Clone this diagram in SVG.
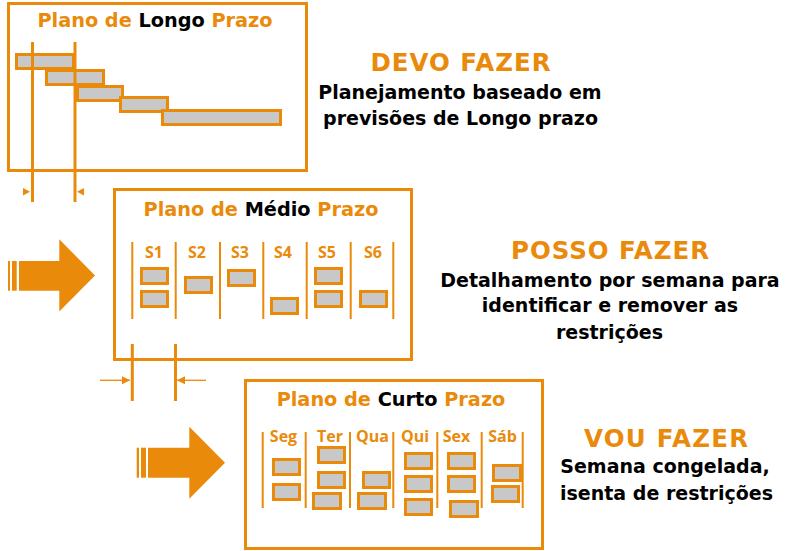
<svg xmlns="http://www.w3.org/2000/svg" width="800" height="551" viewBox="0 0 800 551">
<style>
.frame{fill:#fff;stroke:#EA8A0B;stroke-width:3}
.bar{fill:#C8C8C8;stroke:#EA8A0B;stroke-width:3}
.vl{stroke:#EA8A0B;stroke-width:3}
.div{stroke:#EA8A0B;stroke-width:2}
.thin{stroke:#EA8A0B;stroke-width:1.3}
.big{fill:#EA8A0B}
.title{font-family:"DejaVu Sans",sans-serif;font-weight:700;font-size:19.3px;text-anchor:middle;fill:#EA8A0B}
.k{fill:#000}
.col{font-family:"Open Sans","Noto Sans",sans-serif;font-weight:700;font-size:16px;text-anchor:middle;fill:#EA8A0B}
.head{font-family:"DejaVu Sans",sans-serif;font-weight:700;font-size:24.5px;text-anchor:middle;fill:#EA8A0B}
.body{font-family:"DejaVu Sans",sans-serif;font-weight:700;font-size:19px;text-anchor:middle;fill:#000}
</style>
<defs>
<marker id="ah" viewBox="0 0 8 8" refX="8" refY="4" markerWidth="8" markerHeight="8" markerUnits="userSpaceOnUse" orient="auto">
<path d="M0,0 L8,4 L0,8 Z" fill="#EA8A0B"/>
</marker>
</defs>

<g id="longo">
<rect class="frame" x="8.5" y="3.5" width="298" height="167"/>
<text class="title" x="155" y="27">Plano de <tspan class="k">Longo</tspan> Prazo</text>
<rect class="bar" x="16.5" y="54.5" width="57" height="14"/>
<rect class="bar" x="46.5" y="70.5" width="57" height="14"/>
<rect class="bar" x="77.5" y="86.5" width="45" height="14"/>
<rect class="bar" x="120.5" y="97.5" width="47" height="14"/>
<rect class="bar" x="162.5" y="110.5" width="118" height="14"/>
</g>

<g id="medio">
<rect class="frame" x="114.5" y="189.5" width="297" height="170"/>
<text class="title" x="261" y="216">Plano de <tspan class="k">Médio</tspan> Prazo</text>
<g class="div">
<line x1="132.3" y1="242" x2="132.3" y2="319"/>
<line x1="175.7" y1="242" x2="175.7" y2="319"/>
<line x1="220" y1="242" x2="220" y2="319"/>
<line x1="263.3" y1="242" x2="263.3" y2="319"/>
<line x1="306.7" y1="242" x2="306.7" y2="319"/>
<line x1="350.7" y1="242" x2="350.7" y2="319"/>
<line x1="393.3" y1="242" x2="393.3" y2="319"/>
</g>
<text class="col" x="154" y="258">S1</text>
<text class="col" x="197" y="258">S2</text>
<text class="col" x="240" y="258">S3</text>
<text class="col" x="283" y="258">S4</text>
<text class="col" x="327" y="258">S5</text>
<text class="col" x="373" y="258">S6</text>
<rect class="bar" x="141.5" y="268.5" width="26" height="15"/>
<rect class="bar" x="141.5" y="291.5" width="26" height="15"/>
<rect class="bar" x="185.5" y="277.5" width="26" height="15"/>
<rect class="bar" x="228.5" y="270.5" width="26" height="15"/>
<rect class="bar" x="271.5" y="298.5" width="26" height="15"/>
<rect class="bar" x="315.5" y="268.5" width="26" height="15"/>
<rect class="bar" x="315.5" y="291.5" width="26" height="15"/>
<rect class="bar" x="360.5" y="291.5" width="26" height="15"/>
</g>

<g id="curto">
<rect class="frame" x="245.5" y="380.5" width="297" height="168"/>
<text class="title" x="391" y="406">Plano de <tspan class="k">Curto</tspan> Prazo</text>
<g class="div">
<line x1="262.7" y1="432" x2="262.7" y2="508"/>
<line x1="305.7" y1="432" x2="305.7" y2="508"/>
<line x1="350" y1="432" x2="350" y2="508"/>
<line x1="393.3" y1="432" x2="393.3" y2="508"/>
<line x1="437.3" y1="432" x2="437.3" y2="508"/>
<line x1="481.7" y1="432" x2="481.7" y2="508"/>
<line x1="522.7" y1="432" x2="522.7" y2="508"/>
</g>
<text class="col" x="283.5" y="442">Seg</text>
<text class="col" x="330" y="442">Ter</text>
<text class="col" x="372.5" y="442">Qua</text>
<text class="col" x="415" y="442">Qui</text>
<text class="col" x="456.5" y="442">Sex</text>
<text class="col" x="502.5" y="442">Sáb</text>
<rect class="bar" x="273.5" y="459.5" width="26" height="15"/>
<rect class="bar" x="273.5" y="484.5" width="26" height="15"/>
<rect class="bar" x="318.5" y="447.5" width="26" height="15"/>
<rect class="bar" x="318.5" y="472.5" width="26" height="15"/>
<rect class="bar" x="313.5" y="493.5" width="27" height="15"/>
<rect class="bar" x="363.5" y="472.5" width="26" height="15"/>
<rect class="bar" x="358.5" y="493.5" width="27" height="15"/>
<rect class="bar" x="405.5" y="453.5" width="26" height="15"/>
<rect class="bar" x="405.5" y="476.5" width="26" height="15"/>
<rect class="bar" x="405.5" y="499.5" width="26" height="15"/>
<rect class="bar" x="448.5" y="453.5" width="26" height="15"/>
<rect class="bar" x="448.5" y="476.5" width="26" height="15"/>
<rect class="bar" x="450.5" y="501.5" width="27" height="15"/>
<rect class="bar" x="493.5" y="465.5" width="27" height="15"/>
<rect class="bar" x="492.5" y="486.5" width="26" height="15"/>
</g>

<g id="devo">
<text class="head" x="460.5" y="71" textLength="180">DEVO FAZER</text>
<text class="body" x="460" y="99">Planejamento baseado em</text>
<text class="body" x="460.5" y="125">previsões de Longo prazo</text>
</g>
<g id="posso">
<text class="head" x="610" y="259" textLength="198">POSSO FAZER</text>
<text class="body" x="610" y="287">Detalhamento por semana para</text>
<text class="body" x="610" y="312">identificar e remover as</text>
<text class="body" x="609.5" y="339">restrições</text>
</g>
<g id="vou">
<text class="head" x="666" y="447" textLength="164">VOU FAZER</text>
<text class="body" x="665" y="473">Semana congelada,</text>
<text class="body" x="666.5" y="500">isenta de restrições</text>
</g>

<g id="connectors">
<line class="vl" x1="32.5" y1="42" x2="32.5" y2="202"/>
<line class="vl" x1="75" y1="42" x2="75" y2="202"/>
<path class="big" d="M23,188 L30,191.7 L23,195.4 Z"/>
<path class="big" d="M84,188 L77,191.7 L84,195.4 Z"/>
<line class="vl" x1="132.3" y1="344" x2="132.3" y2="401"/>
<line class="vl" x1="175.5" y1="344" x2="175.5" y2="401"/>
<line class="thin" x1="100" y1="380.3" x2="130" y2="380.3" marker-end="url(#ah)"/>
<line class="thin" x1="206" y1="380.3" x2="177" y2="380.3" marker-end="url(#ah)"/>
<g class="big">
<rect x="8" y="261" width="2" height="29.7"/>
<rect x="12" y="261" width="4.7" height="29.7"/>
<path d="M19,261 L59.3,261 L59.3,239.3 L95,275.5 L59.3,311.5 L59.3,290.7 L19,290.7 Z"/>
<rect x="136.7" y="447.7" width="2.3" height="30"/>
<rect x="141" y="447.7" width="5" height="30"/>
<path d="M148,447.7 L189.3,447.7 L189.3,426.7 L225,462.7 L189.3,498.7 L189.3,477.7 L148,477.7 Z"/>
</g>
</g>
</svg>
